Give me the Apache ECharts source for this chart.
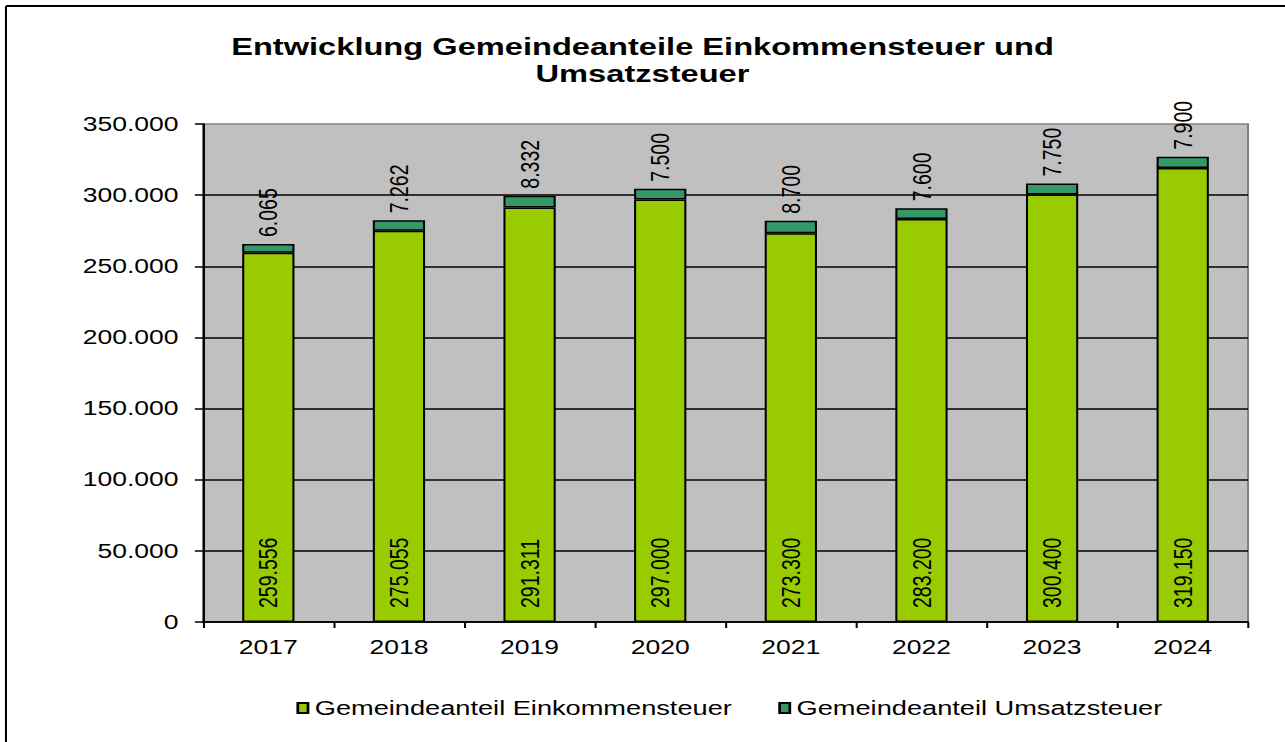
<!DOCTYPE html>
<html>
<head>
<meta charset="utf-8">
<script src="https://cdn.jsdelivr.net/npm/echarts@6/dist/echarts.min.js"></script>
<style>
  html, body { margin: 0; padding: 0; background: #fff; overflow: hidden; }
  #wrap { width: 1285px; height: 742px; overflow: hidden; position: relative; }
  #chart { width: 945px; height: 742px; transform: scaleX(1.3598); transform-origin: 0 0; }
</style>
</head>
<body>
<div id="wrap"><div id="chart"></div></div>
<script>
// ---- data ----
const titleText = 'Entwicklung Gemeindeanteile Einkommensteuer und\nUmsatzsteuer';
const years = ['2017', '2018', '2019', '2020', '2021', '2022', '2023', '2024'];
const seriesNames = ['Gemeindeanteil Einkommensteuer', 'Gemeindeanteil Umsatzsteuer'];
const einkommensteuer = [259556, 275055, 291311, 297000, 273300, 283200, 300400, 319150];
const umsatzsteuer = [6065, 7262, 8332, 7500, 8700, 7600, 7750, 7900];
const yMin = 0, yMax = 350000, yStep = 50000;

// ---- helpers ----
function fmt(v) {
  return String(Math.round(v)).replace(/\B(?=(\d{3})+(?!\d))/g, '.');
}
const FONT = '"Liberation Sans", Arial, sans-serif';

const chart = echarts.init(document.getElementById('chart'), null, { renderer: 'svg' });
chart.setOption({
  animation: false,
  backgroundColor: '#ffffff',
  textStyle: { fontFamily: FONT },
  title: {
    text: titleText,
    left: 'center',
    top: 33,
    padding: 0,
    textStyle: { fontFamily: FONT, fontSize: 24, fontWeight: 'bold', color: '#000', lineHeight: 27 }
  },
  legend: {
    left: 218,
    top: 698,
    padding: 0,
    itemWidth: 7.5,
    itemHeight: 10,
    itemGap: 34,
    icon: 'rect',
    textStyle: { fontFamily: FONT, fontSize: 20, color: '#000' },
    data: seriesNames
  },
  grid: {
    left: 149.3,
    right: 27.2,
    top: 124,
    bottom: 120,
    show: true,
    backgroundColor: '#C0C0C0',
    borderColor: '#808080',
    borderWidth: 1.5
  },
  xAxis: {
    type: 'category',
    data: years,
    axisLine: { show: true, lineStyle: { color: '#000', width: 1.5 } },
    axisTick: { show: true, length: 6, interval: 0, lineStyle: { color: '#000', width: 1.5 } },
    axisLabel: { fontFamily: FONT, fontSize: 19.5, color: '#000', margin: 15 },
    splitLine: { show: false }
  },
  yAxis: {
    type: 'value',
    min: yMin,
    max: yMax,
    interval: yStep,
    axisLine: { show: true, lineStyle: { color: '#000', width: 1.5 } },
    axisTick: { show: true, length: 6, lineStyle: { color: '#000', width: 1.5 } },
    axisLabel: { fontFamily: FONT, fontSize: 19.5, color: '#000', margin: 18, formatter: fmt },
    splitLine: { show: true, showMaxLine: false, lineStyle: { color: '#000', width: 1.5 } }
  },
  series: [
    {
      name: seriesNames[0],
      type: 'bar',
      stack: 'total',
      barWidth: '40%',
      data: einkommensteuer,
      itemStyle: { color: '#99CC00', borderColor: '#000', borderWidth: 1.5 },
      label: {
        show: true,
        position: 'insideBottom',
        rotate: 90,
        align: 'left',
        verticalAlign: 'middle',
        distance: 14,
        fontFamily: FONT,
        fontSize: 19.5,
        color: '#000',
        formatter: p => fmt(p.value)
      }
    },
    {
      name: seriesNames[1],
      type: 'bar',
      stack: 'total',
      barWidth: '40%',
      data: umsatzsteuer,
      itemStyle: { color: '#339966', borderColor: '#000', borderWidth: 1.5 },
      label: {
        show: true,
        position: 'top',
        rotate: 90,
        align: 'left',
        verticalAlign: 'middle',
        distance: 7,
        fontFamily: FONT,
        fontSize: 19.5,
        color: '#000',
        formatter: p => fmt(p.value)
      }
    }
  ],
  graphic: [
    { type: 'line', shape: { x1: 4.4, y1: 6, x2: 4.4, y2: 760 }, style: { stroke: '#000', lineWidth: 1.5 }, silent: true },
    { type: 'line', shape: { x1: 4.4, y1: 6, x2: 960, y2: 6 }, style: { stroke: '#000', lineWidth: 2 }, silent: true }
  ]
});
</script>
</body>
</html>
